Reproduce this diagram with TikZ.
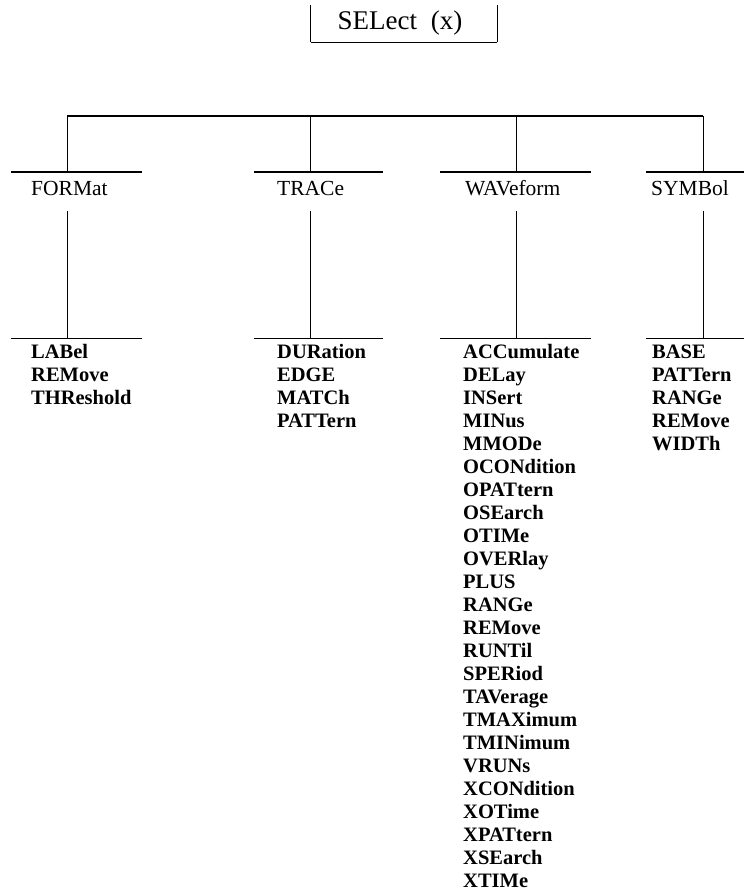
\documentclass[tikz,border=0pt]{standalone}
\usepackage{fontspec}
\setmainfont{Liberation Serif}
\begin{document}
\begin{tikzpicture}[x=1pt,y=-1pt,
  rule/.style={line width=1.3pt},
  stem/.style={line width=1pt},
  hdr/.style={anchor=base west, inner sep=0pt, font=\fontsize{21.5}{23}\selectfont},
  lst/.style={anchor=base west, inner sep=0pt, font=\fontsize{20.5}{23}\selectfont\bfseries},
  rootbox/.style={inner sep=0pt, minimum width=186pt, minimum height=37pt, font=\fontsize{27}{30}\selectfont},
  roottext/.style={inner sep=0pt, font=\fontsize{27}{30}\selectfont}]
\useasboundingbox (0,0) rectangle (744,893);

% root
\node[rootbox] (sel) at (404,23.5) {};
\node[roottext] (seltext) at (400,23.5) {SELect\hspace{7pt} (x)};
\draw[stem] (sel.north west) -- (sel.south west);
\draw[rule] (sel.south west) -- (sel.south east);
\draw[stem] (sel.south east) -- (sel.north east);

% bus
\coordinate (busL) at (67,116);
\coordinate (busR) at (703,116);
\draw[rule] (busL) -- (busR);

% tee coordinates
\foreach \n/\x/\a/\b in {f/67/11/142, t/310/254/383, w/516/440/591, s/703/646/744}{
  \coordinate (\n top) at (\x,116);
  \coordinate (\n h) at (\x,172);
  \coordinate (\n hl) at (\a,172);
  \coordinate (\n hr) at (\b,172);
  \coordinate (\n s) at (\x,211);
  \coordinate (\n l) at (\x,338.5);
  \coordinate (\n ll) at (\a,338.5);
  \coordinate (\n lr) at (\b,338.5);
  \draw[stem] (\n top) -- (\n h);
  \draw[rule] (\n hl) -- (\n hr);
  \draw[stem] (\n s) -- (\n l);
  \draw[rule] (\n ll) -- (\n lr);
}

% headers
\node[hdr] (format) at (31,195.5) {FORMat};
\node[hdr] (trace) at (277,195.5) {TRACe};
\node[hdr] (wave) at (465,195.5) {WAVeform};
\node[hdr] (symbol) at (651,195.5) {SYMBol};

% lists
\foreach \t [count=\i from 0] in {LABel, REMove, THReshold}
  \node[lst] (fl\i) at (31,358+23*\i) {\t};
\foreach \t [count=\i from 0] in {DURation, EDGE, MATCh, PATTern}
  \node[lst] (tl\i) at (277,358+23*\i) {\t};
\foreach \t [count=\i from 0] in {ACCumulate, DELay, INSert, MINus, MMODe, OCONdition, OPATtern, OSEarch, OTIMe, OVERlay, PLUS, RANGe, REMove, RUNTil, SPERiod, TAVerage, TMAXimum, TMINimum, VRUNs, XCONdition, XOTime, XPATtern, XSEarch, XTIMe}
  \node[lst] (wl\i) at (463,358.5+23*\i) {\t};
\foreach \t [count=\i from 0] in {BASE, PATTern, RANGe, REMove, WIDTh}
  \node[lst] (sl\i) at (652,358+23*\i) {\t};
\end{tikzpicture}
\end{document}
